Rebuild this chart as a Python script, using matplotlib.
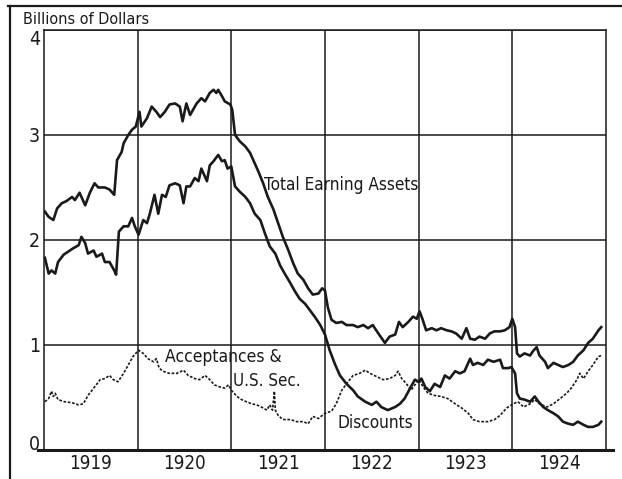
import matplotlib
matplotlib.use("Agg")
import matplotlib.pyplot as plt
from matplotlib.lines import Line2D
from matplotlib import font_manager as fm

# ---------------- data (billions of dollars) ----------------
tea_x = [1919.01,1919.05,1919.10,1919.14,1919.19,1919.24,1919.30,1919.33,1919.38,1919.44,1919.49,1919.54,1919.58,1919.65,1919.70,1919.75,1919.78,1919.83,1919.85,1919.90,1919.94,1919.98,
         1920.02,1920.04,1920.10,1920.15,1920.20,1920.24,1920.29,1920.34,1920.40,1920.45,1920.48,1920.52,1920.56,1920.63,1920.68,1920.72,1920.77,1920.81,1920.84,1920.86,1920.90,1920.93,1920.99,
         1921.01,1921.04,1921.09,1921.15,1921.20,1921.25,1921.29,1921.34,1921.39,1921.45,1921.50,1921.55,1921.61,1921.66,1921.71,1921.77,1921.82,1921.87,1921.93,1921.97,
         1922.00,1922.03,1922.07,1922.12,1922.18,1922.23,1922.30,1922.35,1922.41,1922.46,1922.51,1922.57,1922.64,1922.69,1922.75,1922.79,1922.83,1922.89,1922.94,1922.98,
         1923.01,1923.04,1923.08,1923.14,1923.19,1923.24,1923.30,1923.35,1923.40,1923.46,1923.51,1923.55,1923.60,1923.65,1923.71,1923.76,1923.81,1923.87,1923.92,1923.97,
         1924.00,1924.03,1924.05,1924.08,1924.13,1924.19,1924.22,1924.26,1924.29,1924.35,1924.38,1924.44,1924.49,1924.54,1924.60,1924.65,1924.70,1924.76,1924.81,1924.86,1924.92,1924.95]
tea_y = [2.27,2.22,2.19,2.30,2.35,2.37,2.41,2.38,2.45,2.33,2.45,2.54,2.50,2.50,2.48,2.43,2.76,2.84,2.92,3.00,3.05,3.08,
         3.22,3.08,3.16,3.27,3.22,3.17,3.22,3.29,3.30,3.27,3.13,3.30,3.19,3.30,3.35,3.32,3.40,3.43,3.40,3.43,3.37,3.32,3.29,
         3.24,3.00,2.94,2.89,2.83,2.73,2.65,2.54,2.41,2.29,2.16,2.03,1.90,1.78,1.68,1.62,1.54,1.48,1.49,1.54,
         1.52,1.36,1.24,1.21,1.22,1.19,1.19,1.17,1.19,1.16,1.19,1.11,1.02,1.08,1.10,1.22,1.17,1.22,1.27,1.25,
         1.32,1.25,1.14,1.16,1.14,1.16,1.14,1.13,1.11,1.06,1.16,1.06,1.05,1.08,1.06,1.11,1.13,1.13,1.14,1.17,
         1.25,1.17,0.92,0.89,0.92,0.90,0.94,0.98,0.90,0.84,0.78,0.83,0.81,0.79,0.81,0.84,0.90,0.95,1.02,1.06,1.14,1.17]

disc_x = [1919.01,1919.05,1919.08,1919.12,1919.15,1919.21,1919.26,1919.31,1919.37,1919.40,1919.44,1919.47,1919.53,1919.56,1919.62,1919.65,1919.70,1919.75,1919.77,1919.80,1919.85,1919.90,1919.94,1919.97,
          1920.01,1920.06,1920.10,1920.13,1920.18,1920.22,1920.26,1920.30,1920.34,1920.40,1920.45,1920.49,1920.52,1920.56,1920.61,1920.65,1920.68,1920.74,1920.77,1920.81,1920.86,1920.90,1920.93,1920.96,
          1921.00,1921.04,1921.09,1921.15,1921.20,1921.25,1921.31,1921.36,1921.41,1921.47,1921.52,1921.57,1921.63,1921.68,1921.73,1921.79,1921.84,1921.89,1921.95,
          1922.00,1922.05,1922.11,1922.16,1922.23,1922.30,1922.35,1922.43,1922.50,1922.55,1922.60,1922.67,1922.75,1922.80,1922.85,1922.91,1922.96,
          1923.00,1923.03,1923.07,1923.12,1923.17,1923.23,1923.28,1923.33,1923.39,1923.44,1923.49,1923.55,1923.58,1923.63,1923.69,1923.74,1923.80,1923.87,1923.90,1923.96,1923.99,
          1924.03,1924.05,1924.08,1924.13,1924.19,1924.24,1924.28,1924.33,1924.38,1924.44,1924.49,1924.54,1924.60,1924.65,1924.70,1924.76,1924.81,1924.86,1924.92,1924.95]
disc_y = [1.83,1.68,1.71,1.68,1.79,1.86,1.89,1.92,1.95,2.03,1.97,1.87,1.90,1.84,1.87,1.79,1.79,1.71,1.67,2.08,2.13,2.13,2.21,2.13,
          2.05,2.19,2.16,2.25,2.43,2.25,2.43,2.41,2.52,2.54,2.52,2.35,2.51,2.51,2.59,2.56,2.68,2.56,2.71,2.75,2.81,2.75,2.76,2.68,
          2.70,2.51,2.46,2.41,2.35,2.25,2.19,2.06,1.94,1.87,1.76,1.68,1.59,1.51,1.44,1.39,1.33,1.27,1.19,
          1.10,0.95,0.81,0.71,0.63,0.57,0.51,0.46,0.43,0.46,0.41,0.38,0.41,0.44,0.49,0.59,0.67,
          0.65,0.68,0.60,0.56,0.63,0.60,0.71,0.68,0.75,0.73,0.75,0.87,0.81,0.83,0.81,0.86,0.84,0.86,0.78,0.78,0.79,
          0.73,0.54,0.49,0.48,0.46,0.51,0.46,0.41,0.38,0.35,0.32,0.27,0.25,0.24,0.27,0.24,0.22,0.22,0.24,0.27]

acc_x = [1919.01,1919.05,1919.08,1919.10,1919.12,1919.15,1919.22,1919.30,1919.37,1919.42,1919.47,1919.54,1919.60,1919.65,1919.70,1919.74,1919.79,1919.85,1919.90,1919.95,
         1920.01,1920.06,1920.11,1920.17,1920.20,1920.23,1920.27,1920.34,1920.42,1920.49,1920.54,1920.61,1920.66,1920.72,1920.77,1920.82,1920.88,1920.93,1920.97,
         1921.00,1921.06,1921.11,1921.16,1921.22,1921.27,1921.32,1921.38,1921.41,1921.44,1921.46,1921.47,1921.50,1921.55,1921.63,1921.70,1921.77,1921.82,1921.87,1921.93,
         1922.00,1922.07,1922.12,1922.18,1922.23,1922.30,1922.37,1922.43,1922.48,1922.55,1922.62,1922.69,1922.75,1922.78,1922.82,1922.87,1922.92,
         1923.00,1923.05,1923.10,1923.17,1923.24,1923.31,1923.39,1923.46,1923.53,1923.58,1923.65,1923.74,1923.81,1923.87,1923.94,
         1924.01,1924.06,1924.12,1924.19,1924.24,1924.29,1924.37,1924.44,1924.51,1924.58,1924.63,1924.69,1924.72,1924.76,1924.81,1924.86,1924.92,1924.95]
acc_y = [0.46,0.49,0.56,0.51,0.54,0.48,0.46,0.45,0.43,0.44,0.52,0.60,0.67,0.68,0.71,0.67,0.65,0.73,0.81,0.89,
         0.95,0.92,0.87,0.84,0.87,0.78,0.75,0.73,0.73,0.76,0.71,0.68,0.67,0.71,0.67,0.62,0.60,0.59,0.62,
         0.57,0.51,0.48,0.46,0.44,0.43,0.41,0.38,0.43,0.38,0.56,0.38,0.33,0.29,0.29,0.27,0.27,0.25,0.32,0.30,
         0.35,0.37,0.44,0.57,0.63,0.71,0.73,0.76,0.73,0.70,0.67,0.68,0.71,0.75,0.68,0.63,0.57,
         0.67,0.60,0.54,0.52,0.51,0.49,0.44,0.40,0.35,0.29,0.27,0.27,0.29,0.33,0.40,
         0.44,0.46,0.41,0.44,0.48,0.44,0.41,0.44,0.49,0.54,0.59,0.67,0.73,0.68,0.75,0.81,0.89,0.90]

years = [1919, 1920, 1921, 1922, 1923, 1924]
y_ticks = [0, 1, 2, 3, 4]
y_label = "Billions of Dollars"
label_tea = "Total Earning Assets"
label_acc1 = "Acceptances &"
label_acc2 = "U.S. Sec."
label_disc = "Discounts"

# ---------------- style ----------------
INK = "#1a1a1a"

# prefer a narrow face (hand lettering in the original is tall and narrow)
_avail = {(f.name, f.stretch) for f in fm.fontManager.ttflist}
_names = {n for n, _ in _avail}
STRETCH = "normal"
if "Liberation Sans Narrow" in _names:
    FACE = "Liberation Sans Narrow"
elif any(n == "DejaVu Sans" and s in ("condensed", "semi-condensed") for n, s in _avail):
    FACE = "DejaVu Sans"
    STRETCH = "condensed"
elif "Liberation Sans" in _names:
    FACE = "Liberation Sans"
else:
    FACE = "DejaVu Sans"
plt.rcParams["font.family"] = [FACE, "DejaVu Sans"]
plt.rcParams["font.stretch"] = STRETCH

fig = plt.figure(figsize=(6.22, 4.79), dpi=100)
ax = fig.add_axes([0.0707, 0.0605, 0.9035, 0.877])

ax.set_xlim(1919, 1925)
ax.set_ylim(0, 4)

# grid
for yr in years[1:]:
    ax.axvline(yr, color=INK, lw=1.1, zorder=1)
for v in y_ticks[1:]:
    ax.axhline(v, color=INK, lw=1.1, zorder=1)

for s in ["left", "right", "top"]:
    ax.spines[s].set_color(INK)
    ax.spines[s].set_linewidth(1.1)
ax.spines["bottom"].set_visible(False)
ax.axhline(0, xmin=-0.01, xmax=1.012, color=INK, lw=2.2, clip_on=False, zorder=3)

# series
ax.plot(tea_x, tea_y, color=INK, lw=1.9, solid_joinstyle="round", zorder=4)
ax.plot(disc_x, disc_y, color=INK, lw=1.9, solid_joinstyle="round", zorder=4)
ax.plot(acc_x, acc_y, color=INK, lw=1.2, linestyle=(0, (1.6, 1.0)), zorder=4)

# ticks
ax.set_xticks(years, labels=[""] * len(years))
ax.set_xticks([y + 0.5 for y in years], labels=[str(y) for y in years], minor=True)
ax.tick_params(axis="x", which="both", length=0, pad=3, labelsize=13.5, colors=INK)
ax.set_yticks(y_ticks, labels=[str(v) for v in y_ticks])
ax.tick_params(axis="y", length=0, pad=3, labelsize=14, colors=INK)
for lab in ax.get_yticklabels():
    if lab.get_text() == "4":
        lab.set_va("top")
    elif lab.get_text() == "0":
        lab.set_va("baseline")

# annotations
t_tea = ax.text(1921.35, 2.52, label_tea, fontsize=12, color=INK, va="center", ha="left", zorder=5)
t_a1 = ax.text(1920.29, 0.886, label_acc1, fontsize=12, color=INK, va="center", ha="left", zorder=5)
t_a2 = ax.text(1921.02, 0.657, label_acc2, fontsize=12, color=INK, va="center", ha="left", zorder=5)
t_d = ax.text(1922.13, 0.257, label_disc, fontsize=12, color=INK, va="center", ha="left", zorder=5)
t_b = fig.text(23 / 622, 1 - 20 / 479, y_label, fontsize=10.5, color=INK, va="center", ha="left")

# fit text widths to the widths seen in the original lettering (pixels)
fig.canvas.draw()
r = fig.canvas.get_renderer()
for t, w in [(t_tea, 155), (t_a1, 116), (t_a2, 67), (t_d, 76), (t_b, 127)]:
    cur = t.get_window_extent(r).width
    t.set_fontsize(t.get_fontsize() * w / cur)

# outer hand-drawn frame (top and left edges)
fig.add_artist(Line2D([8 / 622, 1.0], [1 - 6 / 479, 1 - 6 / 479], color=INK, lw=1.6,
                      transform=fig.transFigure))
fig.add_artist(Line2D([10 / 622, 10 / 622], [1 - 6 / 479, 0.0], color=INK, lw=1.6,
                      transform=fig.transFigure))

fig.savefig("out.png", dpi=100, facecolor="white")
